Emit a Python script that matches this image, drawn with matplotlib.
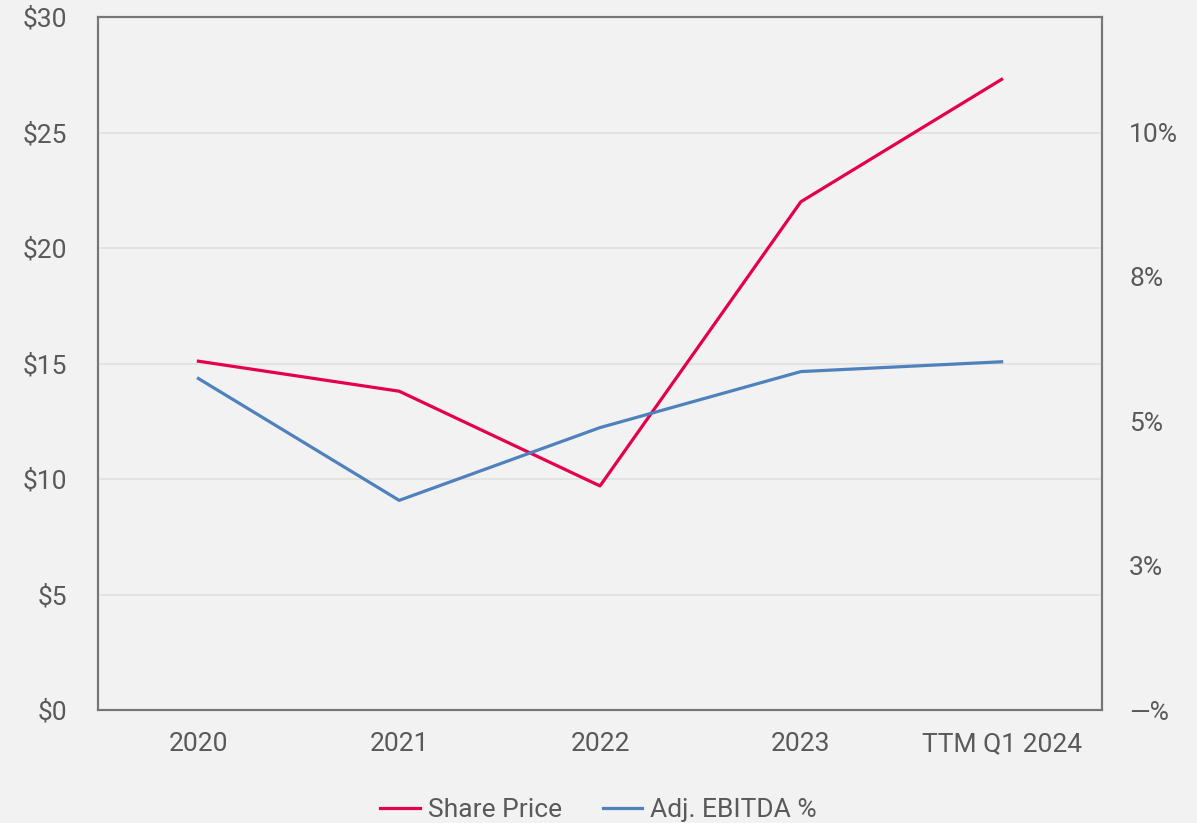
import matplotlib

matplotlib.use("Agg")
import matplotlib.pyplot as plt  # noqa: E402
from matplotlib.ticker import FuncFormatter, MultipleLocator  # noqa: E402

CATEGORIES = ["2020", "2021", "2022", "2023", "TTM Q1 2024"]
SHARE_PRICE = [15.1, 13.8, 9.7, 22.0, 27.3]
EBITDA_PCT = [5.74, 3.63, 4.89, 5.86, 6.03]

BG = "#f2f2f2"
RED = "#e4004f"
BLUE = "#4f81bd"
TXT = "#595959"
SPINE = "#767676"

plt.rcParams["font.family"] = ["Roboto", "DejaVu Sans"]
plt.rcParams["font.size"] = 19

fig = plt.figure(figsize=(11.97, 8.23), dpi=100, facecolor=BG)
ax = fig.add_axes([98 / 1197, 113 / 823, 1004 / 1197, 693 / 823], facecolor=BG)
ax2 = ax.twinx()

x = range(len(CATEGORIES))
l1, = ax.plot(x, SHARE_PRICE, color=RED, lw=2.3, label="Share Price", zorder=3)
l2, = ax2.plot(x, EBITDA_PCT, color=BLUE, lw=2.3, label="Adj. EBITDA %", zorder=3)

ax.set_xlim(-0.5, len(CATEGORIES) - 0.5)
ax.set_ylim(0, 30)
ax.yaxis.set_major_locator(MultipleLocator(5))
ax.yaxis.set_major_formatter(FuncFormatter(lambda v, _: f"${v:.0f}"))
ax.set_xticks(list(x))
ax.set_xticklabels(CATEGORIES)
ax.grid(axis="y", color="#e0e0e0", lw=1.2)
ax.set_axisbelow(True)


def pct(v, _):
    if abs(v) < 1e-9:
        return "\u2014%"
    return f"{int(v + 0.5)}%"


ax2.set_ylim(0, 12)
ax2.set_yticks([0, 2.5, 5, 7.5, 10])
ax2.yaxis.set_major_formatter(FuncFormatter(pct))

for a in (ax, ax2):
    for s in a.spines.values():
        s.set_color(SPINE)
        s.set_linewidth(1.5)
    a.tick_params(length=0, colors=TXT, labelsize=19)
ax.tick_params(axis="y", pad=22)
ax.tick_params(axis="x", pad=16)
ax2.tick_params(axis="y", pad=19.5)

fig.legend(handles=[l1, l2], loc="lower center", bbox_to_anchor=(0.5, -0.028),
           ncol=2, frameon=False, fontsize=19, labelcolor=TXT,
           handlelength=1.5, handletextpad=0.3, columnspacing=1.55)

fig.savefig("out.png", dpi=100, facecolor=BG)
